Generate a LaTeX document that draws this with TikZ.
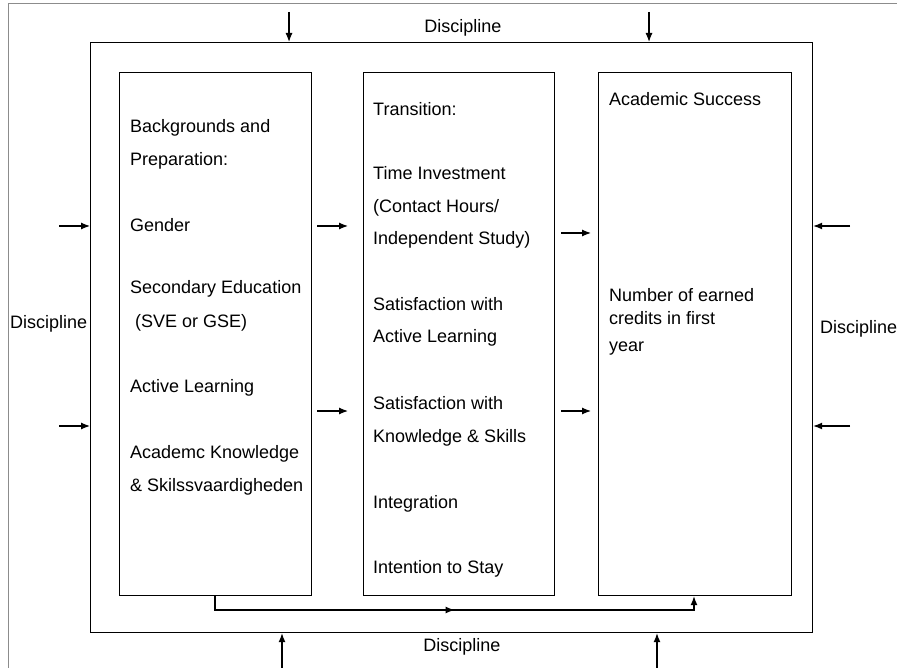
\documentclass[tikz,border=0pt]{standalone}
\usepackage{fontspec}
\setmainfont{Liberation Sans}
\usetikzlibrary{arrows.meta,decorations.markings}
\begin{document}
\begin{tikzpicture}[x=1pt,y=-1pt,
  boxline/.style={draw=black,line width=1.2pt,inner sep=0pt},
  txt/.style={font=\fontsize{18}{20}\selectfont,inner sep=0pt,anchor=base west},
  lbl/.style={font=\fontsize{18}{20}\selectfont,inner sep=0pt},
  arr/.style={line width=1.2pt,-{Latex[length=9pt,width=7pt]}},
  frameline/.style={draw=black!45,line width=1pt}]
\useasboundingbox (0,0) rectangle (897,668);
% outer frame
\draw[frameline] (8,672) -- (8,4) -- (900,4);
% main box and inner boxes
\node[boxline,anchor=north west,minimum width=722pt,minimum height=590pt] (main) at (90,42) {};
\node[boxline,anchor=north west,minimum width=192pt,minimum height=523pt] (b1) at (119,72) {};
\node[boxline,anchor=north west,minimum width=191pt,minimum height=523pt] (b2) at (363,72) {};
\node[boxline,anchor=north west,minimum width=193pt,minimum height=523pt] (b3) at (598,72) {};
% discipline labels
\node[lbl] (dtop) at (463,28) {Discipline};
\node[lbl] (dbot) at (462,647) {Discipline};
\node[lbl,anchor=west] (dleft) at (10,324) {Discipline};
\node[lbl,anchor=west] (dright) at (820,329) {Discipline};
% box 1 text
\node[txt] (t11) at (130,133) {Backgrounds and};
\node[txt] (t12) at (130,166) {Preparation:};
\node[txt] (t13) at (130,232) {Gender};
\node[txt] (t14) at (130,294) {Secondary Education};
\node[txt] (t15) at (130,327) {\ (SVE or GSE)};
\node[txt] (t16) at (130,392) {Active Learning};
\node[txt] (t17) at (130,458) {Academc Knowledge};
\node[txt] (t18) at (130,491) {\& Skilssvaardigheden};
% box 2 text
\node[txt] (t21) at (373,116) {Transition:};
\node[txt] (t22) at (373,180) {Time Investment};
\node[txt] (t23) at (373,213) {(Contact Hours/};
\node[txt] (t24) at (373,245) {Independent Study)};
\node[txt] (t25) at (373,311) {Satisfaction with};
\node[txt] (t26) at (373,343) {Active Learning};
\node[txt] (t27) at (373,409) {Satisfaction with};
\node[txt] (t28) at (373,442) {Knowledge \& Skills};
\node[txt] (t29) at (373,508) {Integration};
\node[txt] (t210) at (373,573) {Intention to Stay};
% box 3 text
\node[txt] (t31) at (609,106) {Academic Success};
\node[txt] (t32) at (609,302) {Number of earned};
\node[txt] (t33) at (609,325) {credits in first};
\node[txt] (t34) at (609,352) {year};
% arrow start coordinates
\coordinate (at1) at (289,12);
\coordinate (at2) at (649,12);
\coordinate (ab1) at (282,668);
\coordinate (ab2) at (657,668);
\coordinate (al1) at (59,226);
\coordinate (al2) at (59,426);
\coordinate (ar1) at (850,226);
\coordinate (ar2) at (850,426);
% outside arrows
\draw[arr] (at1) -- (at1 |- main.north);
\draw[arr] (at2) -- (at2 |- main.north);
\draw[arr] (ab1) -- (ab1 |- main.south);
\draw[arr] (ab2) -- (ab2 |- main.south);
\draw[arr] (al1) -- (al1 -| main.west);
\draw[arr] (al2) -- (al2 -| main.west);
\draw[arr] (ar1) -- (ar1 -| main.east);
\draw[arr] (ar2) -- (ar2 -| main.east);
% arrows between boxes
\coordinate (m1a) at (317,226); \coordinate (m1b) at (348,226);
\coordinate (m2a) at (317,411); \coordinate (m2b) at (348,411);
\coordinate (m3a) at (561,233); \coordinate (m3b) at (591,233);
\coordinate (m4a) at (561,411); \coordinate (m4b) at (591,411);
\draw[arr] (m1a) -- (m1b);
\draw[arr] (m2a) -- (m2b);
\draw[arr] (m3a) -- (m3b);
\draw[arr] (m4a) -- (m4b);
% bottom connector
\coordinate (c1) at (215,595);
\coordinate (c2) at (694,595);
\draw[arr,decoration={markings,mark=at position 0.5 with {\arrow{Latex[length=9pt,width=7pt]}}},postaction={decorate}]
  (c1 |- b1.south) -- (215,610) -- (694,610) -- (c2 |- b3.south);
\end{tikzpicture}
\end{document}
